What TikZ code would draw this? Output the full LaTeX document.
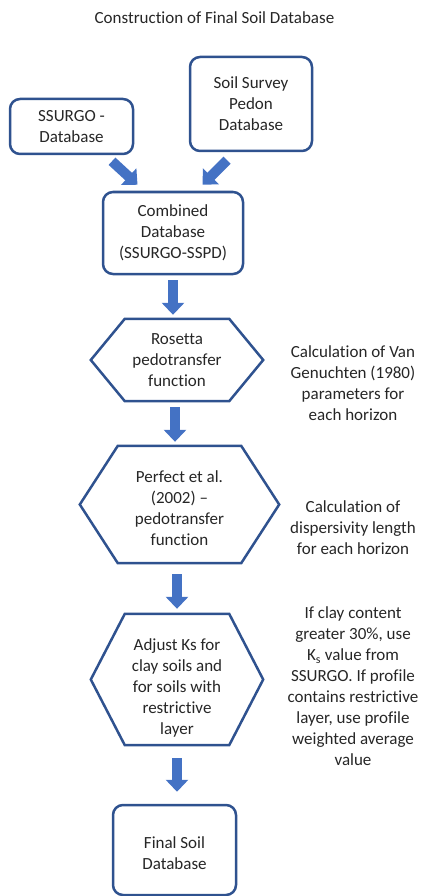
\documentclass[tikz,border=0pt]{standalone}
\usepackage{fontspec}
\setmainfont{Carlito}[Ligatures=NoCommon]
\usetikzlibrary{arrows.meta,calc}
\definecolor{bord}{HTML}{2F528F}
\definecolor{arrfill}{HTML}{4472C4}
\definecolor{txt}{HTML}{262626}
\begin{document}
\begin{tikzpicture}[x=1pt,y=-1pt,
  every node/.style={font=\fontsize{17}{21}\selectfont, text=txt, align=center, inner sep=0pt},
  rbox/.style={draw=bord, line width=2.5pt, rounded corners=10pt, fill=white},
  hexline/.style={draw=bord, line width=2.5pt, line join=miter},
  blockarrow/.style={arrfill, line width=10pt, -{Triangle[width=22pt,length=12pt]}}]
\useasboundingbox (0,0) rectangle (420,896);
\node (title) at (214.5,18) {Construction of Final Soil Database};
\node[rbox, minimum width=123pt, minimum height=55pt] (ssurgo) at (71.5,126.5) {SSURGO -\\Database};
\node[rbox, minimum width=122pt, minimum height=94pt] (pedon) at (251,104) {Soil Survey\\Pedon\\Database};
\node[rbox, minimum width=140pt, minimum height=82pt] (comb) at (173,233) {Combined\\Database\\(SSURGO-SSPD)};
\node[minimum width=172pt, minimum height=82pt] (ros) at (177,360) {Rosetta\\pedotransfer\\function};
\node[minimum width=199pt, minimum height=117pt] (perf) at (179.5,504.5) {\rule{0pt}{20pt}Perfect et al.\\(2002) –\\pedotransfer\\function};
\node[minimum width=172pt, minimum height=131pt] (adj) at (177,679.5) {\rule{0pt}{29pt}Adjust Ks for\\clay soils and\\for soils with\\restrictive\\layer};
\node[rbox, minimum width=123pt, minimum height=90pt] (final) at (174.5,850) {\rule{0pt}{18pt}Final Soil\\Database};
\draw[hexline] (ros.west) -- ([xshift=34pt]ros.north west) -- ([xshift=-34pt]ros.north east) -- (ros.east) -- ([xshift=-34pt]ros.south east) -- ([xshift=34pt]ros.south west) -- cycle;
\draw[hexline] (perf.west) -- ([xshift=38pt]perf.north west) -- ([xshift=-38pt]perf.north east) -- (perf.east) -- ([xshift=-38pt]perf.south east) -- ([xshift=38pt]perf.south west) -- cycle;
\draw[hexline] (adj.west) -- ([xshift=34pt]adj.north west) -- ([xshift=-34pt]adj.north east) -- (adj.east) -- ([xshift=-34pt]adj.south east) -- ([xshift=34pt]adj.south west) -- cycle;
\node (t1) at (353,383.5) {Calculation of Van\\Genuchten (1980)\\parameters for\\each horizon};
\node (t2) at (353,528) {Calculation of\\dispersivity length\\for each horizon};
\node (t3) at (353,686.5) {If clay content\\greater 30\%, use\\K\textsubscript{s} value from\\SSURGO. If profile\\contains restrictive\\layer, use profile\\weighted average\\value};
\draw[blockarrow] ([shift={(40.5pt,-6pt)}]ssurgo.south) -- ([shift={(-35.5pt,6pt)}]comb.north);
\draw[blockarrow] ([shift={(-24pt,-8pt)}]pedon.south) -- ([shift={(29.5pt,6pt)}]comb.north);
\draw[blockarrow] ([yshift=-5pt]comb.south) -- ([yshift=4pt]comb.south |- ros.north);
\draw[blockarrow] ([shift={(-2pt,-6pt)}]ros.south) -- ([shift={(-2pt,4pt)}]ros.south |- perf.north);
\draw[blockarrow] ([shift={(-2.5pt,-11pt)}]perf.south) -- ([shift={(-2.5pt,5pt)}]perf.south |- adj.north);
\draw[blockarrow] ([yshift=-13pt]adj.south) -- ([yshift=12pt]adj.south |- final.north);
\end{tikzpicture}
\end{document}
